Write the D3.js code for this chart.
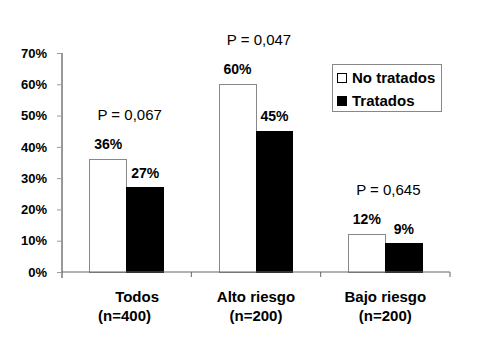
<!DOCTYPE html>
<html>
<head>
<meta charset="utf-8">
<script src="https://cdn.jsdelivr.net/npm/d3@7"></script>
<style>
  body { margin: 0; background: #fff; }
  svg { font-family: Arial, "Liberation Sans", sans-serif; }
</style>
</head>
<body>
<svg width="482" height="354"></svg>
<script>
// data
const categories = ["Todos", "Alto riesgo", "Bajo riesgo"];
const categoryLines = [["     Todos", "(n=400) "], ["Alto riesgo", "(n=200)"], ["Bajo riesgo", "(n=200)"]];
const series = ["No tratados", "Tratados"];
const noTratados = [36, 60, 12];
const tratados = [27, 45, 9];
const pValues = ["P = 0,067", "P = 0,047", "P = 0,645"];
const yTicks = [0, 10, 20, 30, 40, 50, 60, 70];

var svg = d3.select("svg");
var colors = { "No tratados": "#fff", "Tratados": "#000" };

var x = d3.scaleBand()
    .domain(categories)
    .range([62, 450]);

var xs = d3.scaleBand()
    .domain(series)
    .range([0, x.bandwidth()])
    .paddingOuter(0.75);

var y = d3.scaleLinear()
    .domain([0, 70])
    .range([272, 53]);

// y axis
var yAxis = svg.append("g")
    .attr("transform", "translate(62,0)")
    .call(d3.axisLeft(y).tickValues(yTicks).tickFormat(d => d + "%").tickSize(5).tickPadding(10));
yAxis.select(".domain").attr("stroke", "#999").attr("stroke-width", 2).attr("d", "M0,53V278");
yAxis.selectAll(".tick line").attr("stroke", "#999");
yAxis.selectAll(".tick text")
    .attr("fill", "#000")
    .style("font-size", "13px")
    .style("font-weight", "bold");

// bars
var rows = categories.map((c, i) => ({ cat: c, values: [noTratados[i], tratados[i]] }));

var groups = svg.selectAll("g.grp")
    .data(rows)
    .enter()
    .append("g")
    .attr("class", "grp")
    .attr("transform", d => "translate(" + x(d.cat) + ",0)");

groups.selectAll("rect")
    .data(d => d.values.map((v, j) => ({ s: series[j], v: v })))
    .enter()
    .append("rect")
    .attr("x", d => xs(d.s))
    .attr("y", d => y(d.v))
    .attr("width", xs.bandwidth())
    .attr("height", d => y(0) - y(d.v))
    .attr("fill", d => colors[d.s])
    .attr("stroke", d => d.s == "Tratados" ? "#000" : "#888")
    .attr("stroke-width", 1)
    .attr("shape-rendering", "crispEdges");

groups.selectAll("text.val")
    .data(d => d.values.map((v, j) => ({ s: series[j], v: v })))
    .enter()
    .append("text")
    .attr("class", "val")
    .attr("x", d => xs(d.s) + xs.bandwidth() / 2)
    .attr("y", d => y(d.v) - 10)
    .attr("text-anchor", "middle")
    .style("font-size", "14px")
    .style("font-weight", "bold")
    .text(d => d.v + "%");

// p values
groups.append("text")
    .attr("x", x.bandwidth() / 2 + 3)
    .attr("y", d => y(d3.max(d.values)) - 39)
    .attr("text-anchor", "middle")
    .style("font-size", "15px")
    .text((d, i) => pValues[i]);

// x axis
svg.append("line")
    .attr("x1", 62).attr("x2", 450)
    .attr("y1", y(0)).attr("y2", y(0))
    .attr("stroke", "#666");
svg.selectAll("line.xtick")
    .data(categories)
    .enter()
    .append("line")
    .attr("class", "xtick")
    .attr("x1", d => x(d) + x.bandwidth()).attr("x2", d => x(d) + x.bandwidth())
    .attr("y1", y(0)).attr("y2", y(0) + 5)
    .attr("stroke", "#666");

var cl = svg.selectAll("text.cat")
    .data(categories)
    .enter()
    .append("text")
    .attr("class", "cat")
    .attr("text-anchor", "middle")
    .attr("y", 302)
    .style("font-size", "15px")
    .style("font-weight", "bold")
    .style("white-space", "pre");
cl.selectAll("tspan")
    .data((d, i) => categoryLines[i])
    .enter()
    .append("tspan")
    .attr("x", function () { var c = d3.select(this.parentNode).datum(); return x(c) + x.bandwidth() / 2; })
    .attr("dy", (d, i) => i == 0 ? 0 : 19)
    .text(d => d);

// legend
var legend = svg.append("g").attr("transform", "translate(332,64)");
legend.append("rect")
    .attr("width", 109).attr("height", 47)
    .attr("fill", "#fff").attr("stroke", "#888")
    .attr("shape-rendering", "crispEdges");
var li = legend.selectAll("g.li")
    .data(series)
    .enter()
    .append("g")
    .attr("class", "li")
    .attr("transform", (d, i) => "translate(5," + (9 + i * 23) + ")");
li.append("rect")
    .attr("width", 9).attr("height", 9)
    .attr("fill", d => colors[d])
    .attr("stroke", "#000")
    .attr("shape-rendering", "crispEdges");
li.append("text")
    .attr("x", 15).attr("y", 9.5)
    .style("font-size", "15px")
    .style("font-weight", "bold")
    .text(d => d);
</script>
</body>
</html>
